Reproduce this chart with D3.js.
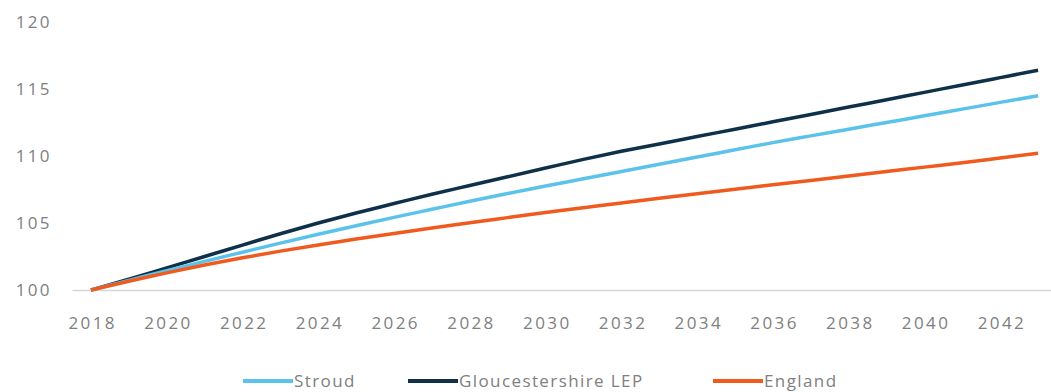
<!DOCTYPE html>
<html>
<head>
<meta charset="utf-8">
<script src="https://cdn.jsdelivr.net/npm/d3@7"></script>
<style>
  html, body { margin: 0; padding: 0; background: #fff; }
  svg { display: block; font-family: "Open Sans", "Noto Sans", sans-serif; }
</style>
</head>
<body>
<svg id="chart" width="1051" height="392"></svg>
<script>
// Population index projections (2018 = 100)
const years = d3.range(2018, 2044);
const stroud = [100, 100.72, 101.44, 102.14, 102.82, 103.5, 104.16, 104.8, 105.42, 106.02, 106.62, 107.2, 107.76,
  108.3, 108.84, 109.38, 109.92, 110.46, 111.0, 111.5, 112.0, 112.5, 113.0, 113.5, 114.0, 114.5];
const gloucestershireLEP = [100, 100.8, 101.65, 102.5, 103.35, 104.2, 105.0, 105.75, 106.45, 107.15, 107.8, 108.45, 109.1,
  109.75, 110.35, 110.9, 111.45, 112.0, 112.55, 113.1, 113.65, 114.2, 114.75, 115.3, 115.85, 116.4];
const england = [100, 100.65, 101.28, 101.86, 102.4, 102.9, 103.36, 103.8, 104.22, 104.62, 105.02, 105.4, 105.78,
  106.14, 106.5, 106.85, 107.18, 107.52, 107.85, 108.18, 108.51, 108.84, 109.17, 109.5, 109.85, 110.2];
const yTicks = [100, 105, 110, 115, 120];
const xTickYears = d3.range(2018, 2043, 2);

const seriesNames = ["Stroud", "Gloucestershire LEP", "England"];
const seriesColors = ["#5BC2EA", "#0E3049", "#F05A1E"];
const seriesValues = [stroud, gloucestershireLEP, england];

const svg = d3.select("#chart");
const textColor = "#808080";

const x = d3.scalePoint().domain(years).range([72, 1057]).padding(0.5);
const y = d3.scaleLinear().domain([100, 120]).range([290, 22]);

// y-axis labels (no axis line)
const yAxis = d3.axisLeft(y).tickValues(yTicks).tickSize(0).tickPadding(0);
const gy = svg.append("g").attr("transform", "translate(52,0)").call(yAxis);
gy.select(".domain").remove();
gy.selectAll("text").attr("fill", textColor).style("font-size", "17px")
  .style("letter-spacing", "2.4px")
  .style("font-family", "'Open Sans', sans-serif").attr("dy", "0.35em");

// x-axis baseline and year labels
const xAxis = d3.axisBottom(x).tickValues(xTickYears).tickSize(0).tickPadding(27);
const gx = svg.append("g").attr("transform", "translate(0,290)").call(xAxis);
gx.select(".domain").attr("stroke", "#d6d6d6").attr("stroke-width", 1.5);
gx.selectAll("text").attr("fill", textColor).style("font-size", "17px")
  .style("letter-spacing", "2.4px").attr("dx", "1.2px")
  .style("font-family", "'Open Sans', sans-serif");

// lines
const line = d3.line().x((d, i) => x(years[i])).y(d => y(d)).curve(d3.curveMonotoneX);
const drawOrder = [1, 0, 2];
svg.append("g").selectAll("path").data(drawOrder).join("path")
  .attr("d", i => line(seriesValues[i]))
  .attr("fill", "none")
  .attr("stroke", i => seriesColors[i])
  .attr("stroke-width", 3.5)
  .attr("stroke-linejoin", "round");

// legend
const legendX = [243, 408, 713];
const leg = svg.append("g").selectAll("g").data(seriesNames).join("g")
  .attr("transform", (d, i) => `translate(${legendX[i]},381)`);
leg.append("line").attr("x1", 0).attr("x2", 50).attr("y1", 0).attr("y2", 0)
  .attr("stroke", (d, i) => seriesColors[i]).attr("stroke-width", 4);
leg.append("text").attr("x", 51).attr("y", 0).attr("dy", "0.35em")
  .attr("fill", textColor).style("font-size", "17px").style("letter-spacing", "1.4px").text(d => d);
</script>
</body>
</html>
